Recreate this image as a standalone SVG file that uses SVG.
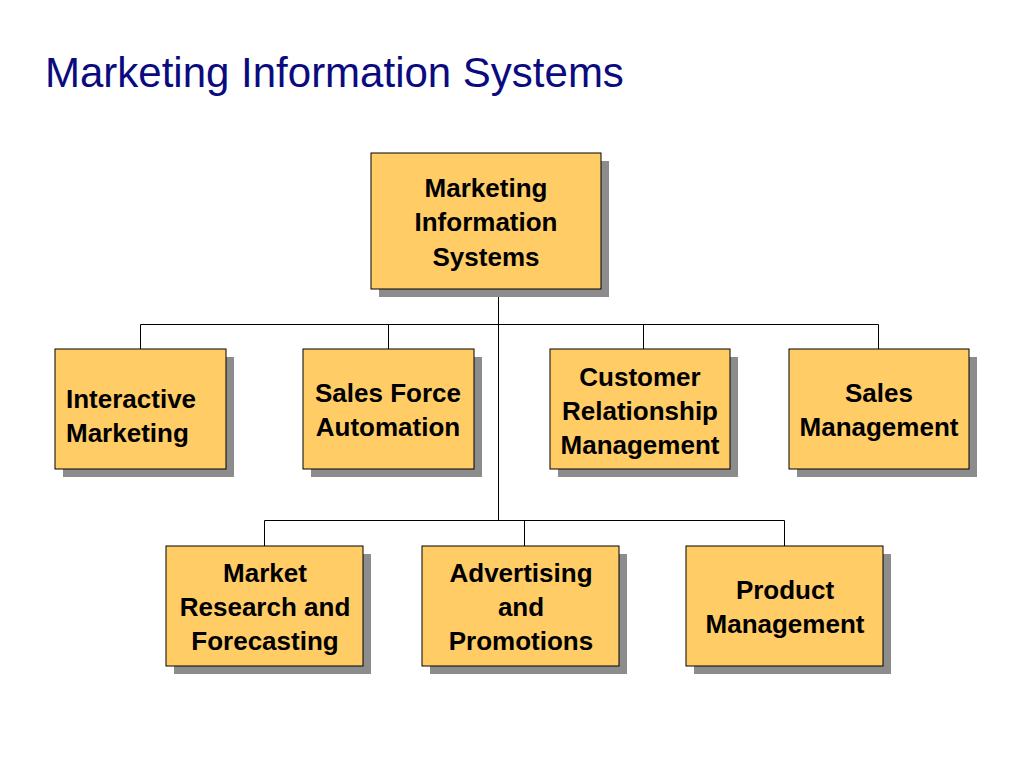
<svg xmlns="http://www.w3.org/2000/svg" width="1024" height="768" viewBox="0 0 1024 768">
<style>
.sh{fill:#8c8c8c}
.bx{fill:#FFCC66;stroke:#000;stroke-width:1}
.t{font-family:"Liberation Sans",Arial,sans-serif;font-weight:bold;font-size:26px;fill:#000;text-anchor:middle}
.c{stroke:#000;stroke-width:1;fill:none}
</style>
<rect width="1024" height="768" fill="#fff"/>
<text x="45" y="87" font-family="'Liberation Sans',Arial,sans-serif" font-size="42" fill="#0B0B80">Marketing Information Systems</text>
<g id="connectors">
<path class="c" d="M498.5 290V520 M140.5 349V324.5H878.5V349 M388.5 324.5V349 M643.5 324.5V349 M264.5 546V520.5H784.5V546 M524.5 520.5V546"/>
</g>
<g id="n-root"><rect class="sh" x="379" y="161" width="230" height="136"/><rect class="bx" x="371" y="153" width="230" height="136"/><text class="t" x="486" y="197">Marketing</text><text class="t" x="486" y="231">Information</text><text class="t" x="486" y="266">Systems</text></g>
<g id="n-im"><rect class="sh" x="63" y="357" width="171" height="120"/><rect class="bx" x="55" y="349" width="171" height="120"/><text class="t" x="66" y="408" style="text-anchor:start">Interactive</text><text class="t" x="66" y="442" style="text-anchor:start">Marketing</text></g>
<g id="n-sfa"><rect class="sh" x="311" y="357" width="171" height="120"/><rect class="bx" x="303" y="349" width="171" height="120"/><text class="t" x="388" y="402">Sales Force</text><text class="t" x="388" y="436">Automation</text></g>
<g id="n-crm"><rect class="sh" x="558" y="357" width="180" height="120"/><rect class="bx" x="550" y="349" width="180" height="120"/><text class="t" x="640" y="386">Customer</text><text class="t" x="640" y="420">Relationship</text><text class="t" x="640" y="454">Management</text></g>
<g id="n-sm"><rect class="sh" x="797" y="357" width="180" height="120"/><rect class="bx" x="789" y="349" width="180" height="120"/><text class="t" x="879" y="402">Sales</text><text class="t" x="879" y="436">Management</text></g>
<g id="n-mrf"><rect class="sh" x="174" y="554" width="197" height="120"/><rect class="bx" x="166" y="546" width="197" height="120"/><text class="t" x="265" y="582">Market</text><text class="t" x="265" y="616">Research and</text><text class="t" x="265" y="650">Forecasting</text></g>
<g id="n-ap"><rect class="sh" x="430" y="554" width="197" height="120"/><rect class="bx" x="422" y="546" width="197" height="120"/><text class="t" x="521" y="582">Advertising</text><text class="t" x="521" y="616">and</text><text class="t" x="521" y="650">Promotions</text></g>
<g id="n-pm"><rect class="sh" x="694" y="554" width="197" height="120"/><rect class="bx" x="686" y="546" width="197" height="120"/><text class="t" x="785" y="599">Product</text><text class="t" x="785" y="633">Management</text></g>
</svg>
